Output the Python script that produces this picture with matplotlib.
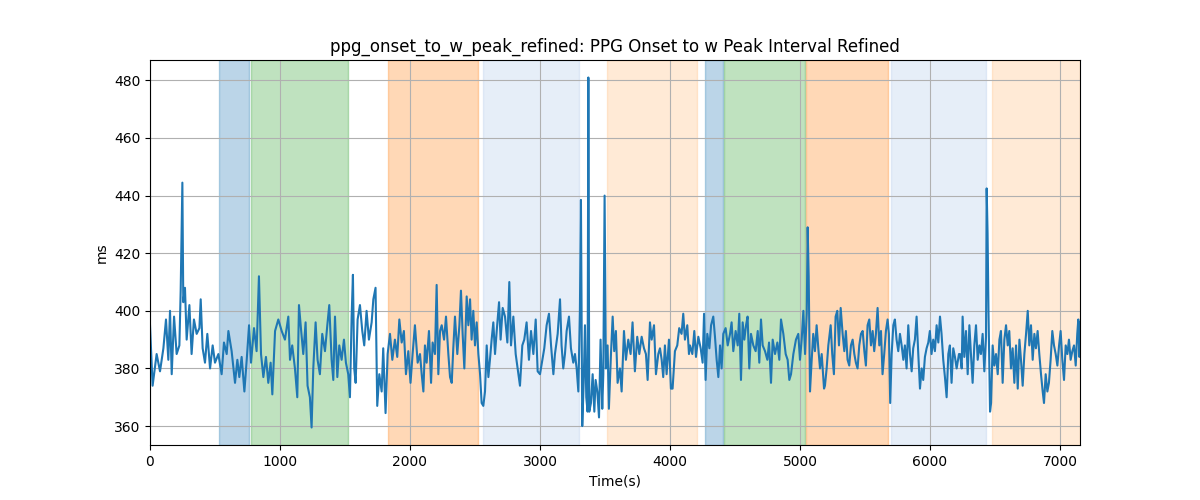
import numpy as np
import matplotlib
matplotlib.use('Agg')
import matplotlib.pyplot as plt

# time (s) and interval (ms)
t_s = [0, 20, 51, 77, 103, 123, 141, 154, 167, 185, 205, 226, 236, 249, 256, 269, 282, 303, 320, 338,
       359, 380, 390, 405, 423, 441, 462, 482, 500, 526, 551, 569, 590, 603, 628, 654, 672, 687, 705, 726,
       744, 762, 777, 800, 820, 838, 854, 872, 892, 910, 928, 941, 962, 987, 1013,
       1038, 1064, 1077, 1094, 1115, 1133, 1146, 1161, 1179, 1197, 1212, 1230, 1243, 1256, 1274, 1289, 1307,
       1325, 1346, 1364, 1379, 1397, 1410, 1423, 1441, 1456, 1474, 1492, 1507, 1525, 1538, 1551, 1561, 1571,
       1582, 1597, 1615, 1633, 1648, 1666, 1684, 1705, 1718, 1735, 1748, 1764, 1782, 1794, 1812, 1828, 1846,
       1864, 1884, 1902, 1918, 1936, 1953, 1969, 1987, 2004, 2020, 2038, 2059,
       2077, 2090, 2103, 2115, 2128, 2146, 2162, 2174, 2192, 2205, 2218, 2231, 2244, 2262, 2277, 2295, 2308,
       2321, 2333, 2346, 2364, 2380, 2392, 2405, 2418, 2436, 2449, 2462, 2474, 2487, 2500, 2513, 2526, 2539,
       2551, 2564, 2577, 2590, 2603, 2615, 2628, 2641, 2654, 2667, 2685, 2697, 2713, 2731, 2749, 2764, 2777,
       2795, 2813, 2828, 2846, 2864, 2879, 2897, 2915, 2931, 2949, 2967, 2982, 3000, 3018, 3033, 3051, 3069,
       3085, 3103,
       3115, 3136, 3154, 3166, 3179, 3192, 3205, 3223, 3238, 3256, 3269, 3282, 3295, 3307, 3315, 3325, 3336,
       3346, 3356, 3366, 3372, 3379, 3392, 3405, 3418, 3428, 3441, 3454, 3466, 3479, 3487, 3497, 3507, 3520,
       3530, 3546, 3559, 3571, 3584, 3597, 3615, 3628, 3646, 3661, 3679, 3697, 3712, 3730, 3748, 3764, 3782,
       3800, 3815, 3828, 3846, 3859, 3877, 3892, 3910, 3923, 3936, 3948, 3961, 3974, 3992, 4007, 4020, 4038,
       4056, 4071, 4089, 4102, 4115, 4133, 4146,
       4154, 4172, 4187, 4200, 4218, 4236, 4251, 4262, 4274, 4287, 4303, 4316, 4333, 4346, 4359, 4372, 4385,
       4397, 4410, 4428, 4444, 4462, 4474, 4487, 4505, 4521, 4533, 4546, 4559, 4572, 4585, 4597, 4610, 4623,
       4641, 4659, 4675, 4687, 4700, 4713, 4731, 4749, 4762, 4777, 4790, 4808, 4826, 4841, 4854, 4872, 4890,
       4905, 4918, 4931, 4949, 4969, 4987, 5000, 5013, 5026, 5039, 5052, 5059, 5067, 5077, 5090, 5102, 5115,
       5128, 5141, 5154, 5167, 5185,
       5192, 5205, 5218, 5236, 5248, 5261, 5274, 5287, 5300, 5313, 5328, 5341, 5353, 5366, 5379, 5392, 5405,
       5418, 5430, 5443, 5456, 5469, 5482, 5495, 5507, 5520, 5533, 5546, 5559, 5571, 5584, 5597, 5610, 5623,
       5635, 5648, 5661, 5674, 5684, 5694, 5705, 5718, 5730, 5743, 5756, 5769, 5782, 5795, 5807, 5820, 5833,
       5846, 5859, 5871, 5884, 5897, 5910, 5923, 5936, 5948, 5961, 5974, 5987, 5999, 6012, 6025, 6038, 6051,
       6064, 6077, 6089, 6102, 6115, 6128, 6141, 6153, 6166, 6179, 6192, 6205, 6223,
       6231, 6244, 6251, 6264, 6277, 6290, 6303, 6315, 6328, 6341, 6354, 6367, 6380, 6392, 6405, 6418, 6431,
       6436, 6443, 6450, 6462, 6470, 6482, 6495, 6508, 6521, 6534, 6546, 6559, 6572, 6585, 6598, 6610, 6623,
       6636, 6649, 6662, 6675, 6688, 6700, 6713, 6726, 6739, 6752, 6764, 6777, 6790, 6803, 6815, 6828, 6841,
       6854, 6867, 6877, 6890, 6903, 6915, 6928, 6941, 6954, 6967, 6980, 6993, 7005, 7018, 7031, 7044, 7057,
       7069, 7082, 7095, 7108, 7121, 7133, 7141, 7149, 7154]

ms = [395, 374, 385, 379, 387, 397, 383, 400, 378, 398, 385, 388, 407, 444.5, 403, 408, 390, 402, 385, 397,
      392, 394, 404, 387, 382, 392, 380, 388, 382, 385, 378, 389, 385, 393, 386, 375, 383, 377, 384, 372,
      383, 395, 382, 394, 386, 412, 385, 377, 384, 375, 382, 371, 393, 397, 393,
      390, 398, 383, 388, 380, 370, 402, 394, 385, 396, 374, 370, 359.5, 380, 396, 383, 378,
      392, 386, 395, 402, 383, 376, 398, 377, 388, 383, 390, 382, 378, 370, 398, 412.5, 380,
      375, 397, 402, 393, 388, 400, 390, 396, 404, 408, 367, 378, 372, 387, 364.5, 385, 392,
      383, 390, 384, 397, 389, 393, 378, 386, 375, 385, 395, 382,
      385, 378, 372, 388, 382, 393, 375, 389, 385, 409, 378, 393, 395, 390, 398, 385, 377,
      375, 387, 398, 385, 395, 407, 392, 380, 405, 395, 404, 390, 400, 388, 396, 385, 378,
      368, 367, 372, 388, 377, 383, 390, 396, 385, 393, 403, 390, 401, 398, 389, 410, 388,
      398, 385, 380, 374, 388, 390, 396, 383, 393, 385, 397, 379, 378, 383, 387, 395, 399,
      388, 378,
      385, 392, 404, 388, 380, 385, 393, 398, 387, 382, 385, 380, 372, 400, 438.5, 360, 375,
      395, 370, 365, 481, 365, 368, 378, 365, 376, 372, 363, 390, 366, 378, 440, 380, 388,
      366, 385, 398, 386, 393, 375, 380, 372, 393, 383, 390, 385, 396, 379, 391, 385, 391,
      387, 385, 376, 396, 390, 395, 378, 385, 387, 383, 377, 388, 378, 390, 373, 373, 386,
      388, 394, 392, 399, 390, 395, 385,
      388, 385, 393, 384, 391, 387, 382, 399, 376, 392, 387, 395, 398, 391, 383, 377, 388,
      380, 392, 394, 388, 392, 396, 386, 393, 388, 399, 376, 396, 390, 395, 398, 380, 392,
      388, 386, 393, 382, 397, 388, 386, 383, 389, 375, 390, 385, 389, 383, 397, 392, 385,
      383, 376, 378, 385, 390, 392, 383, 390, 400, 385, 399, 429, 412, 372, 383, 392, 386,
      395, 387, 380, 385, 373,
      374, 380, 388, 395, 385, 378, 398, 400, 388, 401, 392, 386, 393, 383, 381, 388, 390,
      385, 382, 380, 388, 392, 393, 386, 381, 395, 397, 388, 393, 386, 392, 401, 388, 393,
      378, 385, 393, 397, 392, 368, 385, 395, 397, 390, 386, 392, 388, 383, 388, 380, 395,
      385, 379, 387, 390, 398, 385, 373, 380, 376, 384, 387, 389, 393, 385, 390, 386, 395,
      389, 398, 392, 383, 377, 370, 385, 388, 375, 387, 384, 380, 385,
      385, 380, 398, 384, 393, 378, 395, 385, 375, 388, 395, 383, 388, 385, 392, 379, 391,
      442.5, 427, 400, 365, 368, 388, 381, 385, 378, 390, 393, 375, 390, 395, 388, 393, 380,
      387, 375, 388, 373, 390, 383, 374, 385, 392, 400, 388, 395, 383, 392, 387, 393, 385,
      378, 372, 368, 378, 372, 375, 383, 393, 388, 385, 381, 388, 393, 383, 376, 388, 385,
      390, 383, 386, 388, 381, 392, 397, 384, 396]

# shaded segments: start, end, colour
seg_start = [531, 777, 1831, 2562, 3515, 4269, 4415, 5046, 5700, 6477]
seg_end = [762, 1523, 2523, 3300, 4208, 4408, 5038, 5677, 6431, 7154]
seg_color = ['#1f77b4', '#2ca02c', '#ff7f0e', '#aec7e8', '#ffbb78',
             '#1f77b4', '#2ca02c', '#ff7f0e', '#aec7e8', '#ffbb78']

fig, ax = plt.subplots(figsize=(12, 5))

for s, e, c in zip(seg_start, seg_end, seg_color):
    ax.axvspan(s, e, color=c, alpha=0.3)

ax.plot(t_s, ms, color='C0', linewidth=1.5)
ax.set_xlim(t_s[0], t_s[-1])
ax.set_title('ppg_onset_to_w_peak_refined: PPG Onset to w Peak Interval Refined')
ax.set_xlabel('Time(s)')
ax.set_ylabel('ms')
ax.grid(True)

plt.savefig('out.png', dpi=100)
